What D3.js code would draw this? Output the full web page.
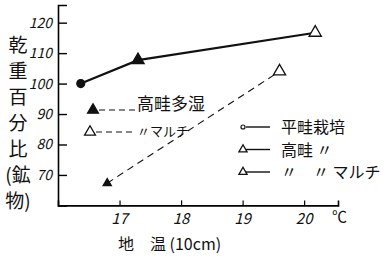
<!DOCTYPE html>
<html>
<head>
<meta charset="utf-8">
<script src="https://cdn.jsdelivr.net/npm/d3@7"></script>
<style>
  body { margin: 0; background: #fff; }
  svg text { font-family: "Noto Sans CJK JP", "DejaVu Sans", sans-serif; fill: #111; }
</style>
</head>
<body>
<div class="chart"></div>
<script>
// chart size
const WIDTH = 385;
const HEIGHT = 261;

// values
const xTicks = [17, 18, 19, 20];
const yTicks = [70, 80, 90, 100, 110, 120];
const solidTemp = [16.37, 17.3, 20.18];
const solidPct = [100, 107.7, 116.7];
const solidMark = ["circle", "triFilled", "triOpen"];
const dashTemp = [16.8, 19.6];
const dashPct = [67.3, 104];
const dashMark = ["triFilled", "triOpen"];
const legendLabels = ["平畦栽培", "高畦 〃", "〃　〃 マルチ"];
const legendMark = ["circleOpen", "triOpen", "triOpen"];
const noteLabels = ["高畦多湿", "〃マルチ"];
const noteMark = ["triFilled", "triOpen"];
const yLabel = ["乾", "重", "百", "分", "比", "(鉱", "物)"];

const xScale = d3.scaleLinear().domain([16, 20.55]).range([58, 338]);
const yScale = d3.scaleLinear().domain([60, 125.8]).range([205.4, 5]);

const svg = d3.select(".chart")
    .append("svg")
    .attr("width", WIDTH)
    .attr("height", HEIGHT);

function drawMark(g, type, x, y, size) {
    if (type == "circle" || type == "circleOpen") {
        g.append("circle").attr("cx", x).attr("cy", y).attr("r", size / 2)
            .attr("fill", type == "circle" ? "#111" : "#fff")
            .attr("stroke", "#111").attr("stroke-width", 1.2);
    } else {
        g.append("path")
            .attr("d", d3.symbol().type(d3.symbolTriangle).size(size * size * 0.8)())
            .attr("transform", `translate(${x},${y})`)
            .attr("fill", type == "triFilled" ? "#111" : "#fff")
            .attr("stroke", "#111")
            .attr("stroke-width", 1.3);
    }
}

// axes
svg.append("g")
    .attr("transform", `translate(0,${yScale(60)})`)
    .call(d3.axisTop(xScale).tickValues(xTicks).tickSize(5).tickFormat(""))
    .call(g => g.select(".domain").attr("stroke-width", 1.6))
    .call(g => g.selectAll(".tick line").attr("stroke-width", 1.2));
svg.append("g")
    .attr("transform", `translate(${xScale(16)},0)`)
    .call(d3.axisRight(yScale).tickValues(yTicks).tickSize(9).tickFormat(""))
    .call(g => g.select(".domain").attr("stroke-width", 1.6))
    .call(g => g.selectAll(".tick line").attr("stroke-width", 1.4));

// tick labels
svg.selectAll(".xlab").data(xTicks).join("text")
    .attr("x", d => xScale(d))
    .attr("y", 224)
    .attr("text-anchor", "middle")
    .style("font-size", "15px")
    .style("font-style", "italic")
    .text(d => d);
svg.selectAll(".ylab").data(yTicks).join("text")
    .attr("x", 52)
    .attr("y", d => yScale(d) + 5)
    .attr("text-anchor", "end")
    .style("font-size", "14px")
    .style("font-style", "italic")
    .text(d => d);
svg.append("text").attr("x", 332).attr("y", 222)
    .style("font-size", "15px").text("℃");

// axis titles
svg.append("text").attr("x", 118).attr("y", 250)
    .style("font-size", "16px").text("地　温  (10cm)");
svg.selectAll(".ytitle").data(yLabel).join("text")
    .attr("x", 18)
    .attr("y", (d, i) => 52 + i * 26)
    .attr("text-anchor", "middle")
    .style("font-size", "19px")
    .text(d => d);

// lines
const line = d3.line().x(d => xScale(d[0])).y(d => yScale(d[1]));
svg.append("path")
    .datum(solidTemp.map((t, i) => [t, solidPct[i]]))
    .attr("d", line)
    .attr("fill", "none").attr("stroke", "#111").attr("stroke-width", 2.2);
svg.append("path")
    .datum(dashTemp.map((t, i) => [t, dashPct[i]]))
    .attr("d", line)
    .attr("fill", "none").attr("stroke", "#111").attr("stroke-width", 1.1)
    .attr("stroke-dasharray", "7,5");

const marks = svg.append("g");
solidTemp.forEach((t, i) => drawMark(marks, solidMark[i], xScale(t), yScale(solidPct[i]), solidMark[i] == "circle" ? 8 : 9));
dashTemp.forEach((t, i) => drawMark(marks, dashMark[i], xScale(t), yScale(dashPct[i]), dashMark[i] == "triFilled" ? 6 : 9));

// annotation for dashed line
const note = svg.append("g");
noteLabels.forEach((d, i) => {
    const y = 110 + i * 22;
    const x0 = 93 - i * 3;
    drawMark(note, noteMark[i], x0, y, 8);
    note.append("line").attr("x1", x0 + 6).attr("x2", 136).attr("y1", y).attr("y2", y)
        .attr("stroke", "#111").attr("stroke-width", 1.2).attr("stroke-dasharray", "6,4");
    note.append("text").attr("x", 137).attr("y", y + (i == 0 ? 0 : 4))
        .style("font-size", i == 0 ? "17px" : "13px").text(d);
});

// legend
const legend = svg.append("g");
legendLabels.forEach((d, i) => {
    const y = 127 + i * 22.5;
    drawMark(legend, legendMark[i], 243, y, legendMark[i] == "circleOpen" ? 4 : 6);
    legend.append("line").attr("x1", 246).attr("x2", 270).attr("y1", y).attr("y2", y)
        .attr("stroke", "#111").attr("stroke-width", 1.4);
    legend.append("text").attr("x", 281).attr("y", y + 6)
        .style("font-size", "16px").text(d);
});
</script>
</body>
</html>
